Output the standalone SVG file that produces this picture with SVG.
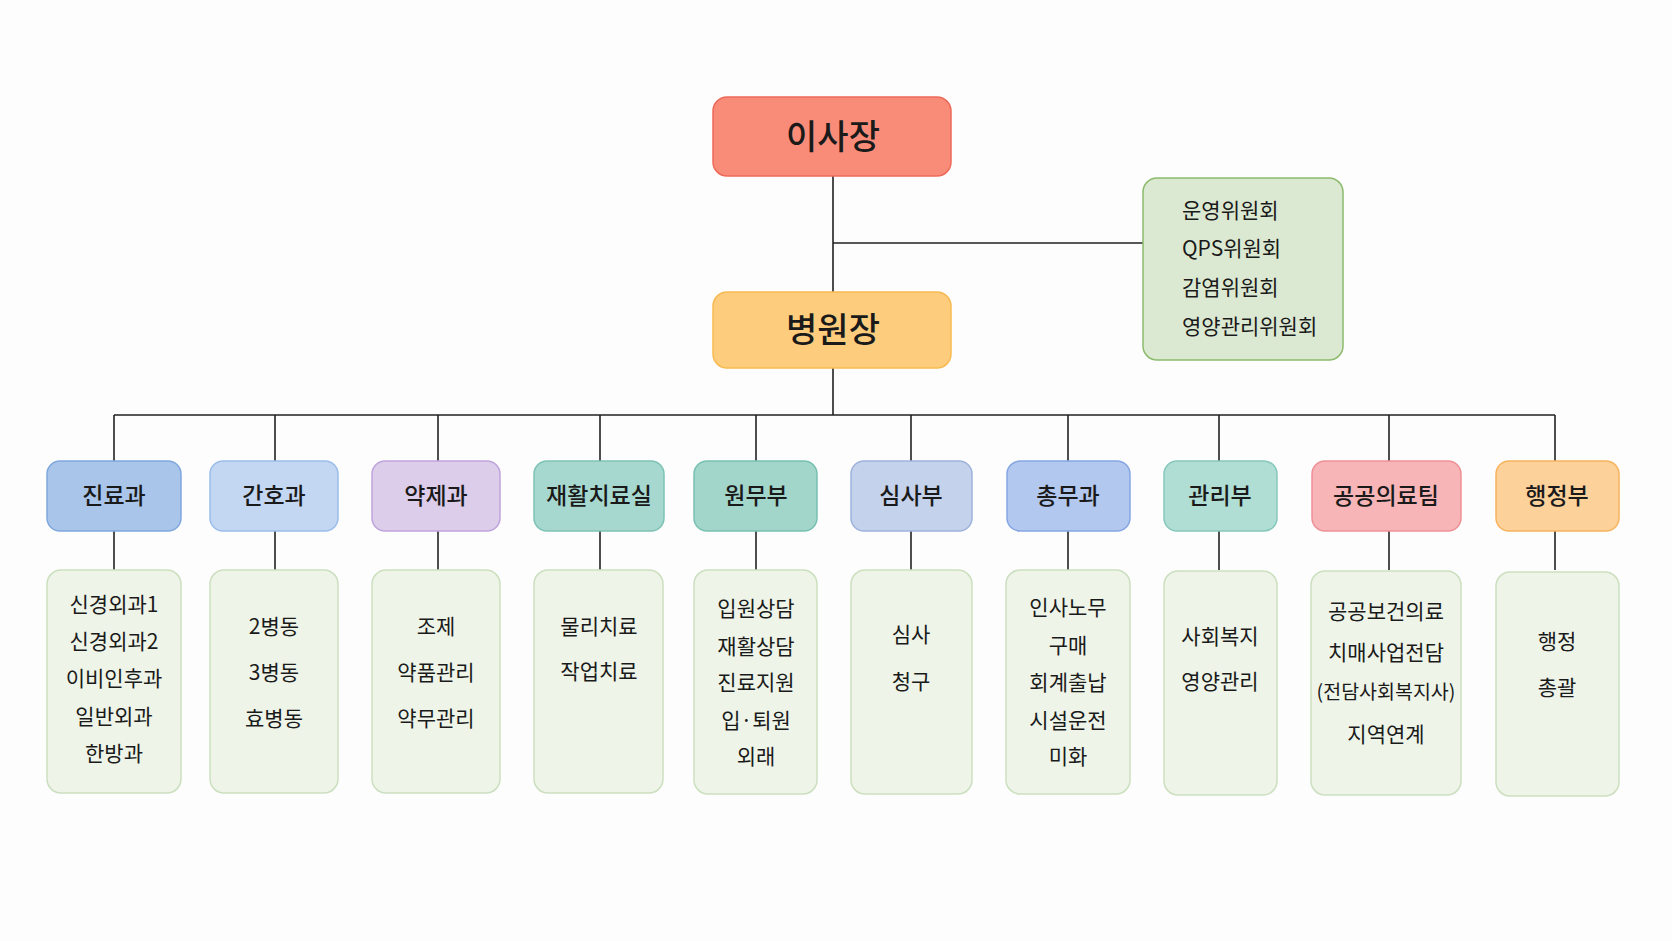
<svg xmlns="http://www.w3.org/2000/svg" width="1672" height="941" viewBox="0 0 1672 941">
<style>
text{font-family:"Noto Sans CJK KR","Noto Sans",sans-serif;fill:#1a1a1a;text-anchor:middle}
.top{font-size:34px;font-weight:500}
.dept{font-size:23px;font-weight:500}
.det{font-size:21px}
.com{font-size:21px;text-anchor:start}
.detail{fill:#EEF4E8;stroke:#CCDFBF;stroke-width:1.5}
.line{stroke:#222;stroke-width:1.6;fill:none}
</style>
<rect width="1672" height="941" fill="#FDFDFD"/>
<g id="connectors" class="line">
<path d="M833 176V292M833 243H1143M833 368V415M114 415H1555"/>
<path d="M114 415V461M275 415V461M438 415V461M600 415V461M756 415V461M911 415V461M1068 415V461M1219 415V461M1389 415V461M1555 415V461"/>
<path d="M114 531V570M275 531V570M438 531V570M600 531V570M756 531V570M911 531V570M1068 531V570M1219 531V570M1389 531V570M1555 531V570"/>
</g>
<g id="chairman"><rect x="713" y="97" width="238" height="79" rx="14" fill="#F98C78" stroke="#EE6A58" stroke-width="1.5"/><text class="top" x="833" y="149">이사장</text></g>
<g id="director"><rect x="713" y="292" width="238" height="76" rx="14" fill="#FDCD7D" stroke="#F7BA52" stroke-width="1.5"/><text class="top" x="833" y="342">병원장</text></g>
<g id="committee"><rect x="1143" y="178" width="200" height="182" rx="14" fill="#DCE9D2" stroke="#8CBB6D" stroke-width="1.5"/>
<text class="com" x="1182" y="218">운영위원회</text><text class="com" x="1182" y="256">QPS위원회</text><text class="com" x="1182" y="295">감염위원회</text><text class="com" x="1182" y="334">영양관리위원회</text></g>

<g id="d1"><rect x="47" y="461" width="134" height="70" rx="13" fill="#A9C6EA" stroke="#7FA8DD" stroke-width="1.5"/><text class="dept" x="114" y="504">진료과</text></g>
<g id="d2"><rect x="210" y="461" width="128" height="70" rx="13" fill="#C4D7F2" stroke="#9BBDE9" stroke-width="1.5"/><text class="dept" x="274" y="504">간호과</text></g>
<g id="d3"><rect x="372" y="461" width="128" height="70" rx="13" fill="#DCCDEB" stroke="#BEA4DB" stroke-width="1.5"/><text class="dept" x="436" y="504">약제과</text></g>
<g id="d4"><rect x="534" y="461" width="130" height="70" rx="13" fill="#A6D8CF" stroke="#7DC2B5" stroke-width="1.5"/><text class="dept" x="599" y="504">재활치료실</text></g>
<g id="d5"><rect x="694" y="461" width="123" height="70" rx="13" fill="#A2D6CB" stroke="#78C0B2" stroke-width="1.5"/><text class="dept" x="756" y="504">원무부</text></g>
<g id="d6"><rect x="851" y="461" width="121" height="70" rx="13" fill="#C5D2EB" stroke="#9EB3DD" stroke-width="1.5"/><text class="dept" x="911" y="504">심사부</text></g>
<g id="d7"><rect x="1007" y="461" width="123" height="70" rx="13" fill="#B2C8EF" stroke="#86A6E3" stroke-width="1.5"/><text class="dept" x="1068" y="504">총무과</text></g>
<g id="d8"><rect x="1164" y="461" width="113" height="70" rx="13" fill="#B0DDD4" stroke="#86C8BB" stroke-width="1.5"/><text class="dept" x="1220" y="504">관리부</text></g>
<g id="d9"><rect x="1312" y="461" width="149" height="70" rx="13" fill="#F7B5B7" stroke="#EE9096" stroke-width="1.5"/><text class="dept" x="1386" y="504">공공의료팀</text></g>
<g id="d10"><rect x="1496" y="461" width="123" height="70" rx="13" fill="#FDD19A" stroke="#F8B35E" stroke-width="1.5"/><text class="dept" x="1557" y="504">행정부</text></g>

<g id="s1"><rect class="detail" x="47" y="570" width="134" height="223" rx="14"/>
<text class="det" x="114" y="612">신경외과1</text><text class="det" x="114" y="649">신경외과2</text><text class="det" x="114" y="686">이비인후과</text><text class="det" x="114" y="724">일반외과</text><text class="det" x="114" y="761">한방과</text></g>
<g id="s2"><rect class="detail" x="210" y="570" width="128" height="223" rx="14"/>
<text class="det" x="274" y="634">2병동</text><text class="det" x="274" y="680">3병동</text><text class="det" x="274" y="726">효병동</text></g>
<g id="s3"><rect class="detail" x="372" y="570" width="128" height="223" rx="14"/>
<text class="det" x="436" y="634">조제</text><text class="det" x="436" y="680">약품관리</text><text class="det" x="436" y="726">약무관리</text></g>
<g id="s4"><rect class="detail" x="534" y="570" width="129" height="223" rx="14"/>
<text class="det" x="599" y="634">물리치료</text><text class="det" x="599" y="679">작업치료</text></g>
<g id="s5"><rect class="detail" x="694" y="570" width="123" height="224" rx="14"/>
<text class="det" x="756" y="616">입원상담</text><text class="det" x="756" y="654">재활상담</text><text class="det" x="756" y="690">진료지원</text><text class="det" x="756" y="728">입·퇴원</text><text class="det" x="756" y="764">외래</text></g>
<g id="s6"><rect class="detail" x="851" y="570" width="121" height="224" rx="14"/>
<text class="det" x="911" y="642">심사</text><text class="det" x="911" y="689">청구</text></g>
<g id="s7"><rect class="detail" x="1006" y="570" width="124" height="224" rx="14"/>
<text class="det" x="1068" y="615">인사노무</text><text class="det" x="1068" y="653">구매</text><text class="det" x="1068" y="690">회계출납</text><text class="det" x="1068" y="728">시설운전</text><text class="det" x="1068" y="764">미화</text></g>
<g id="s8"><rect class="detail" x="1164" y="571" width="113" height="224" rx="14"/>
<text class="det" x="1220" y="644">사회복지</text><text class="det" x="1220" y="689">영양관리</text></g>
<g id="s9"><rect class="detail" x="1311" y="571" width="150" height="224" rx="14"/>
<text class="det" x="1386" y="619">공공보건의료</text><text class="det" x="1386" y="660">치매사업전담</text><text class="det" x="1386" y="699" style="font-size:19.5px">(전담사회복지사)</text><text class="det" x="1386" y="742">지역연계</text></g>
<g id="s10"><rect class="detail" x="1496" y="572" width="123" height="224" rx="14"/>
<text class="det" x="1557" y="649">행정</text><text class="det" x="1557" y="695">총괄</text></g>
</svg>
